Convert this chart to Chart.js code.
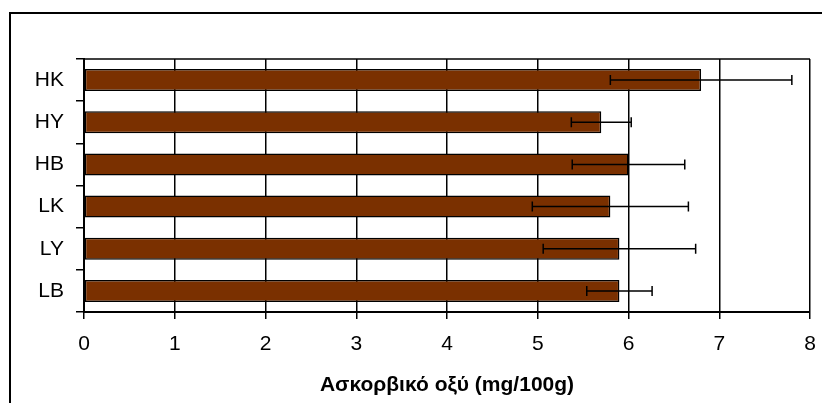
<!DOCTYPE html>
<html>
<head>
<meta charset="utf-8">
<script src="https://cdn.jsdelivr.net/npm/chart.js@4.4.1/dist/chart.umd.min.js"></script>
<style>
  html, body { margin: 0; padding: 0; background: #fff; }
  #wrap { width: 822px; height: 403px; position: relative; }
</style>
</head>
<body>
<div id="wrap"><canvas id="chart" width="822" height="403"></canvas></div>
<script>
// --- data ---
const categories = ['HK', 'HY', 'HB', 'LK', 'LY', 'LB'];
const ascorbicMeans = [6.8, 5.7, 6.0, 5.8, 5.9, 5.9];
const ascorbicErrors = [1.0, 0.33, 0.62, 0.86, 0.84, 0.36];
const xAxisMin = 0;
const xAxisMax = 8;
const xAxisTitle = 'Ασκορβικό οξύ (mg/100g)';

Chart.defaults.font.family = "'Liberation Sans', Arial, sans-serif";
Chart.defaults.color = '#000';

// error bars, drawn through the x scale
const errorBars = {
    id: 'errorBars',
    afterDatasetsDraw(chart) {
        const ctx = chart.ctx;
        const xs = chart.scales.x;
        const meta = chart.getDatasetMeta(0);
        ctx.save();
        ctx.strokeStyle = '#000';
        ctx.lineWidth = 1.5;
        meta.data.forEach((bar, i) => {
            const lo = xs.getPixelForValue(ascorbicMeans[i] - ascorbicErrors[i]);
            const hi = xs.getPixelForValue(ascorbicMeans[i] + ascorbicErrors[i]);
            const y = bar.y;
            ctx.beginPath();
            ctx.moveTo(lo, y); ctx.lineTo(hi, y);
            ctx.moveTo(lo, y - 5); ctx.lineTo(lo, y + 5);
            ctx.moveTo(hi, y - 5); ctx.lineTo(hi, y + 5);
            ctx.stroke();
        });
        ctx.restore();
    }
};

// outer frame + top edge of the plot area
const frame = {
    id: 'frame',
    beforeDraw(chart) {
        const ctx = chart.ctx;
        ctx.save();
        ctx.strokeStyle = '#000';
        ctx.lineWidth = 2;
        ctx.beginPath();
        ctx.moveTo(10, chart.height);
        ctx.lineTo(10, 13);
        ctx.lineTo(chart.width, 13);
        ctx.stroke();
        ctx.restore();
    },
    afterDraw(chart) {
        const { ctx, chartArea } = chart;
        ctx.save();
        ctx.strokeStyle = '#000';
        ctx.lineWidth = 1.5;
        ctx.beginPath();
        ctx.moveTo(chartArea.left, chartArea.top);
        ctx.lineTo(chartArea.right, chartArea.top);
        ctx.stroke();
        ctx.restore();
    }
};

new Chart(document.getElementById('chart'), {
    type: 'bar',
    data: {
        labels: categories,
        datasets: [{
            data: ascorbicMeans,
            backgroundColor: '#7a3000',
            borderColor: '#000',
            borderWidth: 1.5,
            borderSkipped: false,
            barPercentage: 0.52,
            categoryPercentage: 1.0
        }]
    },
    options: {
        indexAxis: 'y',
        responsive: false,
        animation: false,
        layout: { padding: { left: 0, top: 59, right: 12, bottom: 0 } },
        scales: {
            x: {
                min: xAxisMin,
                max: xAxisMax,
                ticks: { stepSize: 1, font: { size: 21 }, padding: 13 },
                grid: { color: '#000', lineWidth: 1.5, tickLength: 7 },
                border: { color: '#000', width: 2 },
                title: {
                    display: true,
                    text: xAxisTitle,
                    font: { size: 21, weight: 'bold' },
                    padding: { top: 0, bottom: 5 }
                },
                afterFit(scale) {
                    scale.height = 91;
                    scale.paddingLeft = 0;
                    scale.paddingRight = 0;
                }
            },
            y: {
                ticks: { font: { size: 21 }, padding: 12 },
                grid: { offset: true, drawOnChartArea: false, color: '#000', lineWidth: 1.5, tickLength: 8 },
                border: { color: '#000', width: 2 },
                afterFit(scale) { scale.width = 84; }
            }
        },
        plugins: {
            legend: { display: false },
            tooltip: { enabled: false }
        }
    },
    plugins: [errorBars, frame]
});
</script>
</body>
</html>
